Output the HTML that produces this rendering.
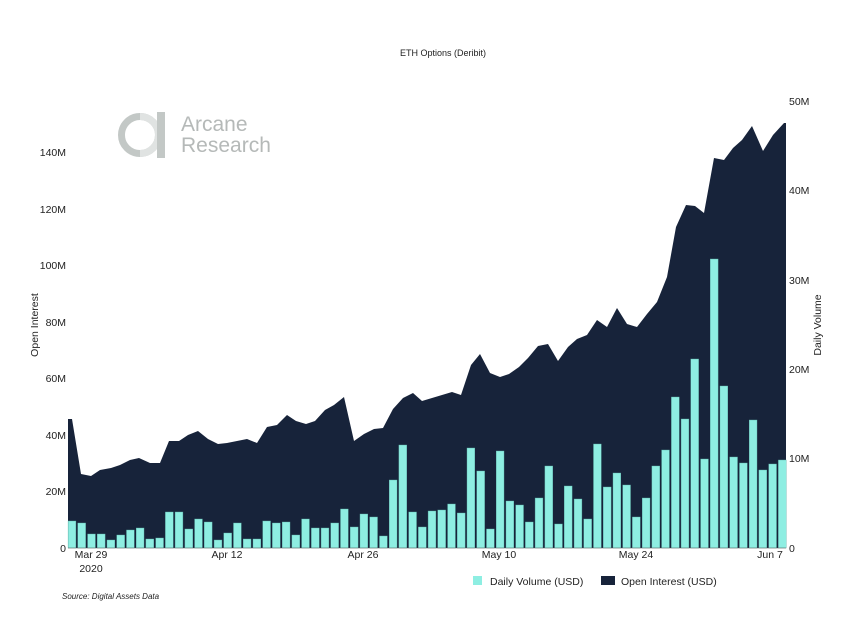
<!DOCTYPE html>
<html><head><meta charset="utf-8"><style>
body{margin:0;background:#fff;}
svg{display:block;font-family:"Liberation Sans",sans-serif;}
</style></head><body>
<svg id="s" width="860" height="628" viewBox="0 0 860 628" xmlns="http://www.w3.org/2000/svg">
<rect width="860" height="628" fill="#fff"/>
<text x="443" y="56" font-size="9" text-anchor="middle" fill="#222">ETH Options (Deribit)</text>
<g id="area"></g>
<g id="bars"></g>
<line x1="68" y1="548" x2="786" y2="548" stroke="#555" stroke-width="0.6"/>
<circle cx="140" cy="135" r="18.5" fill="none" stroke="#c3c8c6" stroke-width="7"/>
<path d="M140 116.5 A18.5 18.5 0 0 1 140 153.5" fill="none" stroke="#e0e3e2" stroke-width="7"/>
<rect x="157" y="112" width="8" height="46" fill="#c3c8c6"/>
<text x="181" y="131" font-size="21" fill="#b5b9b8">Arcane</text>
<text x="181" y="152" font-size="21" fill="#b5b9b8">Research</text>
<g font-size="10.5" fill="#222">
<text x="66" y="156" text-anchor="end">140M</text>
<text x="66" y="213" text-anchor="end">120M</text>
<text x="66" y="269" text-anchor="end">100M</text>
<text x="66" y="326" text-anchor="end">80M</text>
<text x="66" y="382" text-anchor="end">60M</text>
<text x="66" y="439" text-anchor="end">40M</text>
<text x="66" y="495" text-anchor="end">20M</text>
<text x="66" y="552" text-anchor="end">0</text>
<text x="789" y="105">50M</text>
<text x="789" y="194">40M</text>
<text x="789" y="284">30M</text>
<text x="789" y="373">20M</text>
<text x="789" y="462">10M</text>
<text x="789" y="552">0</text>
<text x="91" y="558" text-anchor="middle">Mar 29</text>
<text x="91" y="572" text-anchor="middle">2020</text>
<text x="227" y="558" text-anchor="middle">Apr 12</text>
<text x="363" y="558" text-anchor="middle">Apr 26</text>
<text x="499" y="558" text-anchor="middle">May 10</text>
<text x="636" y="558" text-anchor="middle">May 24</text>
<text x="770" y="558" text-anchor="middle">Jun 7</text>
<text transform="translate(38,325) rotate(-90)" text-anchor="middle">Open Interest</text>
<text transform="translate(821,325) rotate(-90)" text-anchor="middle">Daily Volume</text>
<rect x="473" y="576" width="9" height="9" fill="#8eeee2"/>
<text x="490" y="585">Daily Volume (USD)</text>
<rect x="601" y="576" width="14" height="9" fill="#17233a"/>
<text x="621" y="585">Open Interest (USD)</text>
</g>
<text x="62" y="599" font-size="8" font-style="italic" fill="#222">Source: Digital Assets Data</text>
</svg>
<script>
var bt=[521,523,534,534,540,535,530,528,539,538,512,512,529,519,522,540,533,523,539,539,521,523,522,535,519,528,528,523,509,527,514,517,536,480,445,512,527,511,510,504,513,448,471,529,451,501,505,522,498,466,524,486,499,519,444,487,473,485,517,498,466,450,397,419,359,459,259,386,457,463,420,470,464,460];
var s="";
for(var i=0;i<bt.length;i++){var c=72+9.73*i;s+='<rect x="'+(c-3.9).toFixed(1)+'" y="'+bt[i]+'" width="7.8" height="'+(548-bt[i])+'" fill="#8eeee2" stroke="#5fb5ab" stroke-width="0.4"/>';}
document.getElementById("bars").innerHTML=s;
var a=[[68,548],[68,419],[72,419],[81,474],[91,476],[100,470],[111,468],[120,465],[130,460],[139,458],[150,463],[160,463],[169,441],[179,441],[188,435],[198,431],[208,439],[218,444],[227,443],[237,441],[247,439],[257,443],[267,427],[277,425],[287,415],[296,421],[306,424],[315,421],[325,410],[334,405],[344,397],[354,441],[364,434],[374,429],[383,428],[393,409],[403,398],[413,393],[422,401],[432,398],[442,395],[452,392],[461,395],[471,365],[480,354],[490,373],[500,377],[509,374],[519,367],[528,358],[538,346],[548,344],[558,361],[568,347],[577,339],[587,335],[597,320],[607,327],[617,308],[627,324],[637,327],[647,314],[657,302],[667,277],[676,227],[686,205],[695,206],[704,213],[714,158],[724,160],[733,148],[742,140],[752,126],[763,151],[773,135],[784,123],[786,123],[786,548]];
document.getElementById("area").innerHTML='<polygon fill="#17233a" points="'+a.map(function(p){return p.join(",")}).join(" ")+'"/>';
</script>
</body></html>
